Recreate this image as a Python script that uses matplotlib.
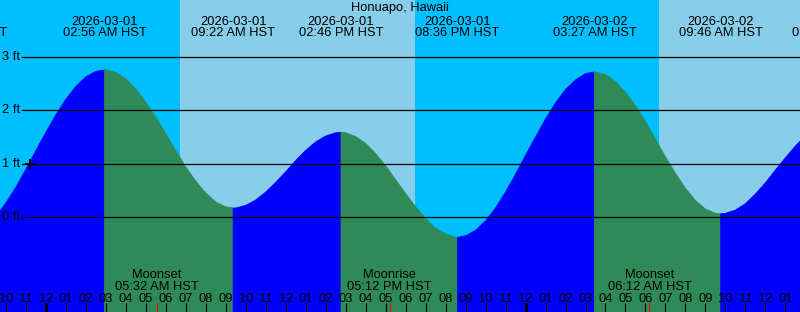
import matplotlib
matplotlib.use('Agg')
import matplotlib.pyplot as plt
from datetime import datetime

plt.rcParams['font.family'] = ['Liberation Sans', 'DejaVu Sans']

# --- data ---
station = 'Honuapo, Hawaii'

# water level (ft) every half hour, starting 2026-02-28 21:00
level_start = '2026-02-28 21:00'
level_step = 0.5  # hours
levels = [-0.19, 0.01, 0.27, 0.56, 0.90, 1.25, 1.59, 1.92, 2.21, 2.45,
          2.63, 2.73, 2.76, 2.71, 2.59, 2.40, 2.15, 1.87, 1.56, 1.24,
          0.94, 0.67, 0.45, 0.28, 0.19, 0.17, 0.22, 0.32, 0.47, 0.65,
          0.85, 1.06, 1.25, 1.41, 1.52, 1.58, 1.58, 1.51, 1.38, 1.19,
          0.96, 0.70, 0.44, 0.19, -0.03, -0.21, -0.32, -0.38, -0.35, -0.25,
          -0.07, 0.17, 0.47, 0.80, 1.16, 1.50, 1.84, 2.14, 2.39, 2.57,
          2.69, 2.72, 2.67, 2.54, 2.34, 2.09, 1.79, 1.46, 1.13, 0.82,
          0.54, 0.31, 0.15, 0.07, 0.07, 0.13, 0.25, 0.43, 0.64, 0.88,
          1.11, 1.33, 1.52]

# high / low tides
tide_times = ['2026-02-28 19:56', '2026-03-01 02:56', '2026-03-01 09:22',
              '2026-03-01 14:46', '2026-03-01 20:36', '2026-03-02 03:27',
              '2026-03-02 09:46', '2026-03-02 15:28']
tide_levels = [-0.36, 2.76, 0.17, 1.59, -0.38, 2.72, 0.06, 1.77]

# sunrise / sunset
sun_times = ['2026-03-01 06:43', '2026-03-01 18:28', '2026-03-02 06:40']
sun_events = ['Sunrise', 'Sunset', 'Sunrise']

# moon
moon_times = ['2026-03-01 05:32', '2026-03-01 17:12', '2026-03-02 06:12']
moon_events = ['Moonset', 'Moonrise', 'Moonset']

now_time = '2026-02-28 23:13'
now_level = 1.0

ft_levels = [0, 1, 2, 3]

# chart window
view_start = '2026-02-28 21:42'
view_end = '2026-03-02 13:44'

base = datetime(2026, 3, 1)


def hrs(s):
    return (datetime.strptime(s, '%Y-%m-%d %H:%M') - base).total_seconds() / 3600


def ypix(p):
    # pixel row from top -> axes fraction
    return 1 - p / 312


night_col = '#00BFFF'
day_col = '#87CEEB'
rise_col = '#0000FF'
fall_col = '#2E8B57'
fs = 9.3

fig = plt.figure(figsize=(8, 3.12), dpi=100)
ax = fig.add_axes([0, 0, 1, 1])
x0, x1 = hrs(view_start), hrs(view_end)
ax.set_xlim(x0, x1)
ax.set_ylim(-1.78, 4.07)
ax.axis('off')
xt = ax.get_xaxis_transform()
yt = ax.get_yaxis_transform()

# --- sky ---
edges = [x0 - 5] + [hrs(s) for s in sun_times] + [x1 + 5]
for i in range(len(edges) - 1):
    if i == 0:
        daylight = sun_events[0] == 'Sunset'
    else:
        daylight = sun_events[i - 1] == 'Sunrise'
    ax.axvspan(edges[i], edges[i + 1], color=day_col if daylight else night_col,
               lw=0, zorder=0)

# --- water ---
t0 = hrs(level_start)
pts = [(t0 + i * level_step, v) for i, v in enumerate(levels)]
pts += [(hrs(s), v) for s, v in zip(tide_times, tide_levels)]
pts.sort()
tt = [p[0] for p in pts]
vv = [p[1] for p in pts]

ext_t = [hrs(s) for s in tide_times]
for i in range(len(ext_t) - 1):
    a, b = ext_t[i], ext_t[i + 1]
    seg_t = [t for t in tt if a <= t <= b]
    seg_v = [v for t, v in zip(tt, vv) if a <= t <= b]
    col = rise_col if tide_levels[i + 1] > tide_levels[i] else fall_col
    ax.fill_between(seg_t, seg_v, -5, color=col, lw=0.6, ec=col, zorder=1)

# --- ft lines ---
for lv in ft_levels:
    ax.axhline(lv, xmin=22 / 800, xmax=1, color='black', lw=0.9, zorder=3)
    ax.text(2 / 800, lv, f'{lv} ft', transform=yt, ha='left', va='center',
            fontsize=fs, zorder=4)

ax.plot([hrs(now_time)], [now_level], marker='+', ms=7.5, mew=1.4,
        color='black', zorder=5)

# --- title and tide labels ---
ax.text(0.5, ypix(10.7), station, transform=ax.transAxes, ha='center',
        va='baseline', fontsize=fs, zorder=6)
for s in tide_times:
    d = datetime.strptime(s, '%Y-%m-%d %H:%M')
    ax.text(hrs(s), ypix(24.7), d.strftime('%Y-%m-%d'), transform=xt,
            ha='center', va='baseline', fontsize=fs, zorder=6)
    ax.text(hrs(s), ypix(36.3), d.strftime('%I:%M %p HST'), transform=xt,
            ha='center', va='baseline', fontsize=fs, zorder=6)

# --- moon labels ---
for s, name in zip(moon_times, moon_events):
    d = datetime.strptime(s, '%Y-%m-%d %H:%M')
    ax.text(hrs(s), ypix(278), name, transform=xt, ha='center',
            va='baseline', fontsize=fs, zorder=6)
    ax.text(hrs(s), ypix(290.3), d.strftime('%I:%M %p HST'), transform=xt,
            ha='center', va='baseline', fontsize=fs, zorder=6)

# --- hour ticks ---
tick_top = ypix(303)
for h in range(int(x0), int(x1) + 1):
    if h < x0:
        continue
    lbl = '%02d' % (h % 12 if h % 12 else 12)
    midnight = h % 24 == 0
    ax.plot([h, h], [0, tick_top], transform=xt, color='black',
            lw=2.0 if midnight else 0.8, solid_capstyle='butt', zorder=5)
    ax.text(h, ypix(301.7), lbl, transform=xt, ha='center', va='baseline',
            fontsize=fs, zorder=6)
for s in moon_times:
    ax.plot([hrs(s), hrs(s)], [0, tick_top], transform=xt, color='red',
            lw=0.8, solid_capstyle='butt', zorder=5)

fig.savefig('out.png', dpi=100)
